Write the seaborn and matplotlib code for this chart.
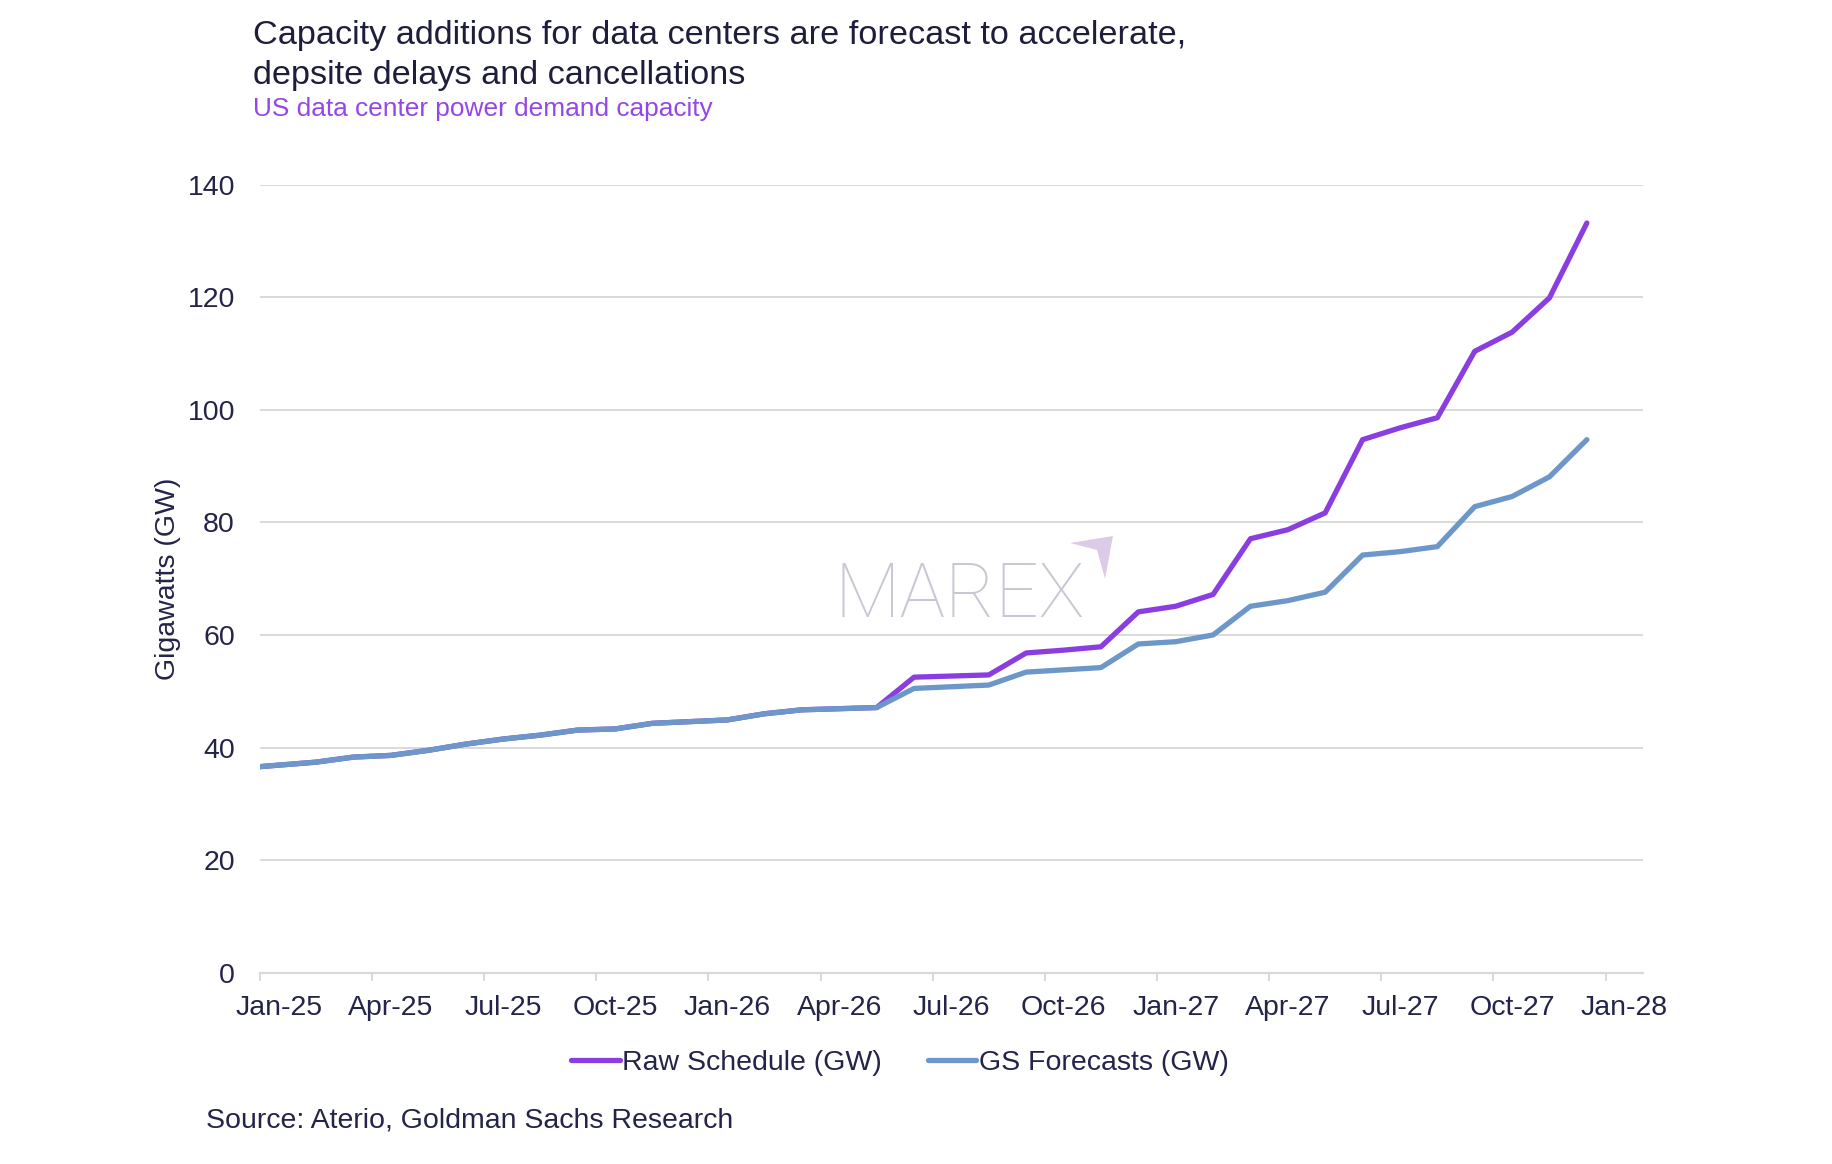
import matplotlib
matplotlib.use('Agg')
import matplotlib.pyplot as plt
from matplotlib.lines import Line2D
from matplotlib.patches import Polygon
import numpy as np
import pandas as pd
import seaborn as sns

sns.set_theme(style='white')
plt.rcParams['font.family'] = ['Liberation Sans', 'DejaVu Sans']

# ── Data (GW, monthly Jan-25 .. Dec-27) ──
month_labels = pd.date_range('2025-01-01', periods=36, freq='MS').strftime('%b-%y').tolist()

raw_schedule = [36.6, 37.4, 38.3, 38.6, 39.5, 40.6, 41.5, 42.2, 43.1, 43.3,
                44.3, 44.6, 44.9, 46.0, 46.7, 46.9, 47.1,
                52.5, 52.7, 52.9, 56.8, 57.3, 57.9, 64.1, 65.1, 67.2, 77.1,
                78.7, 81.7, 94.7, 96.8, 98.6, 110.4, 113.8, 119.9, 133.2]

gs_forecasts = [36.6, 37.4, 38.3, 38.6, 39.5, 40.6, 41.5, 42.2, 43.1, 43.3,
                44.3, 44.6, 44.9, 46.0, 46.7, 46.9, 47.1,
                50.5, 50.8, 51.1, 53.4, 53.8, 54.2, 58.4, 58.8, 60.0, 65.1,
                66.1, 67.6, 74.2, 74.8, 75.7, 82.8, 84.6, 88.1, 94.7]

quarter_labels = ['Jan-25', 'Apr-25', 'Jul-25', 'Oct-25', 'Jan-26', 'Apr-26', 'Jul-26',
                  'Oct-26', 'Jan-27', 'Apr-27', 'Jul-27', 'Oct-27', 'Jan-28']

series_names = ['Raw Schedule (GW)', 'GS Forecasts (GW)']
colors = {'Raw Schedule (GW)': '#8A3EE2', 'GS Forecasts (GW)': '#6C97C8'}

TEXT = '#24244A'
GRID = '#D9D9D9'

# points sit mid-month; the first one is pinned to the axis start
x_pos = np.arange(len(month_labels)) + 0.5
x_pos[0] = 0.0

df = pd.DataFrame({'x': x_pos, 'month': month_labels,
                   series_names[0]: raw_schedule, series_names[1]: gs_forecasts})
long_df = df.melt(id_vars=['x', 'month'], value_vars=series_names,
                  var_name='series', value_name='GW')

# ── Plot ──
fig = plt.figure(figsize=(18.33, 11.64), dpi=100)
ax = fig.add_axes([0.1418, 0.1644, 0.7545, 0.6769])

sns.lineplot(data=long_df, x='x', y='GW', hue='series', hue_order=series_names,
             palette=colors, linewidth=3.8, ax=ax, legend=False, sort=False)
for ln in ax.lines:
    ln.set_solid_capstyle('round')
    ln.set_solid_joinstyle('round')

ax.set_xlim(0, 37)
ax.set_ylim(0, 140)
ax.set_yticks(range(0, 141, 20))
ax.yaxis.grid(True, color=GRID, linewidth=1.4)
ax.xaxis.grid(False)
ax.set_axisbelow(True)

for side in ['left', 'right', 'top']:
    ax.spines[side].set_visible(False)
ax.spines['bottom'].set_color(GRID)
ax.spines['bottom'].set_linewidth(1.6)

# quarter tick marks, labels centred on the month
ax.set_xticks(np.arange(0, 37, 3))
ax.set_xticklabels([''] * 13)
ax.set_xticks(np.arange(0, 37, 3) + 0.5, minor=True)
ax.set_xticklabels(quarter_labels, minor=True)
ax.tick_params(axis='x', which='major', length=6, width=1.4, color=GRID, bottom=True)
ax.tick_params(axis='x', which='minor', length=0, pad=16, labelsize=20.5, labelcolor=TEXT)
ax.tick_params(axis='y', length=0, pad=18, labelsize=20.5, labelcolor=TEXT)

ax.set_xlabel('')
ax.set_ylabel('Gigawatts (GW)', fontsize=20.5, color=TEXT)
ax.yaxis.set_label_coords(-0.057, 0.5)

# watermark
ax.text(0.506, 0.478, 'MAREX', transform=ax.transAxes, ha='center', va='center',
        fontsize=55, color='#C8C8D5', family=['Roboto', 'DejaVu Sans'],
        fontweight='light', zorder=0)
arrow_px = [(1113, 536), (1070, 543), (1097, 550), (1105, 579)]
arrow = Polygon([(x / 100, (1164 - y) / 100) for x, y in arrow_px], closed=True,
                transform=fig.dpi_scale_trans, facecolor='#DCCBE6', edgecolor='none')
fig.patches.append(arrow)

# titles
fig.text(0.1378, 1 - 44 / 1164, 'Capacity additions for data centers are forecast to accelerate,',
         fontsize=24.7, color='#1E1E3C', va='baseline', ha='left')
fig.text(0.1378, 1 - 84 / 1164, 'depsite delays and cancellations',
         fontsize=24.7, color='#1E1E3C', va='baseline', ha='left')
fig.text(0.1378, 1 - 116 / 1164, 'US data center power demand capacity',
         fontsize=18.9, color='#9447E6', va='baseline', ha='left')

# legend
handles = [Line2D([0], [0], color=colors[s], linewidth=3.8) for s in series_names]
fig.legend(handles, series_names, loc='center', bbox_to_anchor=(0.491, 0.0868), ncol=2,
           frameon=False, fontsize=20.5, handlelength=1.7, handletextpad=0.1,
           columnspacing=1.6, labelcolor=TEXT)

fig.text(0.1122, 0.0378, 'Source: Aterio, Goldman Sachs Research', fontsize=20.5,
         color=TEXT, ha='left', va='center')

fig.savefig('out.png', dpi=100, facecolor='white')
plt.close(fig)
